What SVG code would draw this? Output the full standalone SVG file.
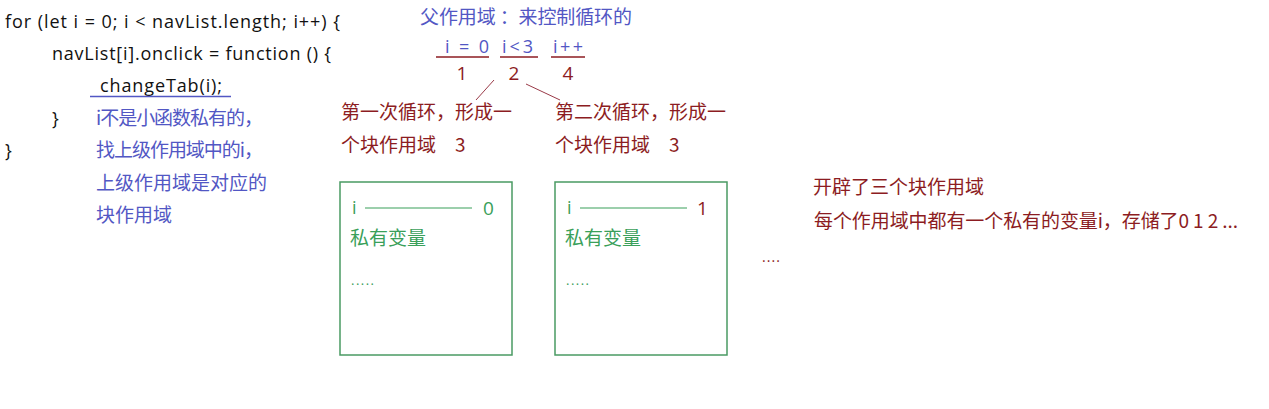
<svg xmlns="http://www.w3.org/2000/svg" width="1269" height="409" viewBox="0 0 1269 409">
<style>
text{font-family:"Open Sans","Noto Sans CJK SC",sans-serif;font-size:18px}
.c{font-family:"Noto Sans CJK SC",sans-serif;font-size:19px}
.k{fill:#111}
.b{fill:#5257c4}
.r{fill:#8c1c22}
.g{fill:#3aa05a}
.box{fill:none;stroke:#4a9a63;stroke-width:1.5}
.ul{stroke-width:1.3}
</style>
<rect width="1269" height="409" fill="#fff"/>
<g id="code">
<text class="k" x="5" y="28" textLength="335" lengthAdjust="spacing">for (let i = 0; i &lt; navList.length; i++) {</text>
<text class="k" x="52" y="60" textLength="279" lengthAdjust="spacing">navList[i].onclick = function () {</text>
<text class="k" x="100" y="92" textLength="122" lengthAdjust="spacing">changeTab(i);</text>
<line x1="90" y1="96.5" x2="231" y2="96.5" stroke="#5257c4" class="ul"/>
<text class="k" x="52" y="125">}</text>
<text class="k" x="5" y="157">}</text>
</g>
<g id="note-left">
<text class="b c" x="96" y="125" textLength="167">i不是小函数私有的，</text>
<text class="b c" x="96" y="157" textLength="167">找上级作用域中的i，</text>
<text class="b c" x="96" y="190">上级作用域是对应的</text>
<text class="b c" x="96" y="222">块作用域</text>
</g>
<g id="parent-scope">
<text class="b c" x="420" y="24" textLength="212">父作用域 ：来控制循环的</text>
<text class="b" x="445" y="53" textLength="44" lengthAdjust="spacing">i = 0</text>
<text class="b" x="502" y="53" textLength="31" lengthAdjust="spacing">i&lt;3</text>
<text class="b" x="553" y="53" textLength="30" lengthAdjust="spacing">i++</text>
<line x1="436" y1="57" x2="489" y2="57" stroke="#8c1c22" class="ul"/>
<line x1="500" y1="57" x2="538" y2="57" stroke="#8c1c22" class="ul"/>
<line x1="551" y1="57" x2="585" y2="57" stroke="#8c1c22" class="ul"/>
<text class="r" x="462" y="80" text-anchor="middle" style="font-size:19px">1</text>
<text class="r" x="514" y="80" text-anchor="middle" style="font-size:19px">2</text>
<text class="r" x="568" y="80" text-anchor="middle" style="font-size:19px">4</text>
</g>
<g id="connectors" stroke="#9a3a48" stroke-width="1">
<line x1="494" y1="80" x2="476" y2="100"/>
<line x1="526" y1="84" x2="560" y2="100"/>
</g>
<g id="loop1">
<text class="r c" x="341" y="119">第一次循环，形成一</text>
<text class="r c" x="341" y="152">个块作用域　3</text>
</g>
<g id="loop2">
<text class="r c" x="555" y="119">第二次循环，形成一</text>
<text class="r c" x="555" y="152">个块作用域　3</text>
</g>
<g id="block1">
<rect class="box" x="340" y="182" width="172" height="173"/>
<text class="g" x="352" y="214">i</text>
<line x1="365" y1="208" x2="472" y2="208" stroke="#3aa05a" stroke-width="1.2"/>
<text class="g" x="483" y="215" style="font-size:19px">0</text>
<text class="g c" x="350" y="245">私有变量</text>
<text class="g" x="351" y="285" style="font-size:13px" textLength="23" lengthAdjust="spacing">.....</text>
</g>
<g id="block2">
<rect class="box" x="555" y="182" width="172" height="173"/>
<text class="g" x="567" y="214">i</text>
<line x1="580" y1="208" x2="687" y2="208" stroke="#3aa05a" stroke-width="1.2"/>
<text class="r" x="697" y="215" style="font-size:19px">1</text>
<text class="g c" x="565" y="245">私有变量</text>
<text class="g" x="566" y="285" style="font-size:13px" textLength="23" lengthAdjust="spacing">.....</text>
</g>
<g id="more">
<text class="r" x="762" y="262" style="font-size:14px" textLength="18" lengthAdjust="spacing">....</text>
</g>
<g id="summary">
<text class="r c" x="813" y="194">开辟了三个块作用域</text>
<text class="r c" x="814" y="228" textLength="424">每个作用域中都有一个私有的变量i，存储了0 1 2 ...</text>
</g>
</svg>
